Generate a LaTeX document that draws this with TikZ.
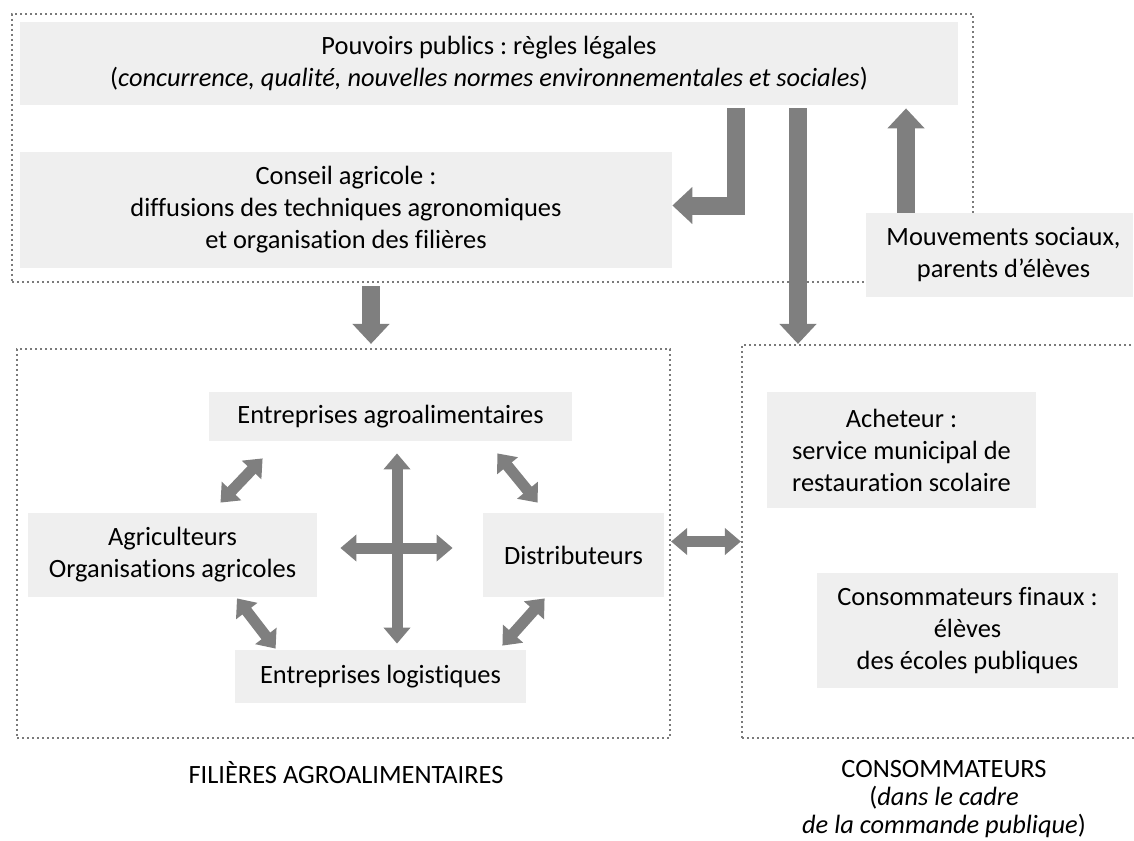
\documentclass[tikz,border=0pt]{standalone}
\usepackage{fontspec}
\setmainfont{Carlito}[Ligatures=NoCommon]
\usetikzlibrary{arrows.meta,calc}
\definecolor{boxgray}{HTML}{EFEFEF}
\definecolor{arrowgray}{HTML}{7F7F7F}
\definecolor{framegray}{HTML}{7A7A7A}
\frenchspacing

\begin{document}
\begin{tikzpicture}[x=0.5pt,y=-0.5pt,
  box/.style={fill=boxgray, align=center, inner sep=0pt, font=\fontsize{13.2}{16}\selectfont},
  frame/.style={draw=framegray, line width=1.1pt, dash pattern=on 1.1pt off 1.4pt, inner sep=0pt},
  bigarrow/.style={draw=arrowgray, line width=9pt, line join=miter, -{Triangle[width=18pt,length=10pt]}},
  dblarrow/.style={draw=arrowgray, line width=5.5pt, {Triangle[width=13pt,length=8pt]}-{Triangle[width=13pt,length=8pt]}},
  caption/.style={align=center, inner sep=0pt, font=\fontsize{13.2}{14}\selectfont}]

\useasboundingbox (0,0) rectangle (1134,840);

% cadres en pointilles
\node[frame, minimum width=480.5pt, minimum height=134pt] (pub) at (492.5,148) {};
\node[frame, minimum width=326.5pt, minimum height=194.5pt] (fil) at (343.5,543.5) {};
\node[frame, minimum width=199pt, minimum height=196.5pt] (cons) at (941,541.5) {};

% acteurs publics
\node[box, minimum width=469pt, minimum height=41.5pt] (pouv) at (489,63.5)
  {Pouvoirs publics : règles légales\\(\textit{concurrence, qualité, nouvelles normes environnementales et sociales})};
\node[box, minimum width=326pt, minimum height=58pt] (conseil) at (346,210)
  {Conseil agricole :\\diffusions des techniques agronomiques\\et organisation des filières};
\node[box, minimum width=133.5pt, minimum height=42pt] (mouv) at (999.5,255)
  {\hspace*{4pt}Mouvements sociaux,\\\hspace*{4pt}parents d’élèves};

% filieres
\node[box, minimum width=181.5pt, minimum height=24.5pt] (agro) at (390.5,416.5) {Entreprises agroalimentaires};
\node[box, minimum width=144.5pt, minimum height=42pt] (agri) at (172.5,555) {Agriculteurs\\Organisations agricoles};
\node[box, minimum width=90.5pt, minimum height=42pt] (distrib) at (573.5,555) {Distributeurs};
\node[box, minimum width=145.5pt, minimum height=26.5pt] (logi) at (380.5,676.5) {Entreprises logistiques};

% consommateurs
\node[box, minimum width=134.5pt, minimum height=58pt] (achet) at (901.5,450)
  {Acheteur :\\service municipal de\\restauration scolaire};
\node[box, minimum width=150.5pt, minimum height=57.5pt] (final) at (967.5,630.5)
  {Consommateurs finaux :\\élèves\\des écoles publiques};

\node[caption] (filLabel) at (346,773) {FILIÈRES AGROALIMENTAIRES};
\node[caption] (consLabel) at (944,799)
  {CONSOMMATEURS\\(\textit{dans le cadre}\\\textit{de la commande publique})};

% fleches
\draw[bigarrow, shorten <=1.5pt] (pouv.south -| 735.5,0) |- (conseil.east |- 0,205.5);
\draw[bigarrow, shorten <=1.5pt] (pouv.south -| 798,0) -- (cons.north -| 798,0);
\draw[bigarrow, shorten >=1.5pt] (mouv.north -| 906,0) -- (pouv.south -| 906,0);
\draw[bigarrow, shorten <=1.5pt, shorten >=2pt] (pub.south -| 371,0) -- (fil.north -| 371,0);

\draw[dblarrow] ($(agri.north)+(48,-10)$) -- ($(agro.south west)+(54,17)$);
\draw[dblarrow] ($(agri.south)+(64.5,1)$) -- ($(logi.north west)+(41,-1)$);
\draw[dblarrow] ($(agro.south east)+(-75,12)$) -- ($(distrib.north west)+(55,-10)$);
\draw[dblarrow] ($(distrib.south west)+(62,1)$) -- ($(logi.north east)+(-24,-4)$);
\draw[dblarrow] ($(agro.south -| 397,0)+(0,12)$) -- ($(logi.north -| 397,0)+(0,-6)$);
\draw[dblarrow] ($(agri.east)+(23,-7)$) -- ($(distrib.west)+(-30,-7)$);
\draw[dblarrow] (fil.east |- cons.west) -- (cons.west);
\end{tikzpicture}
\end{document}
